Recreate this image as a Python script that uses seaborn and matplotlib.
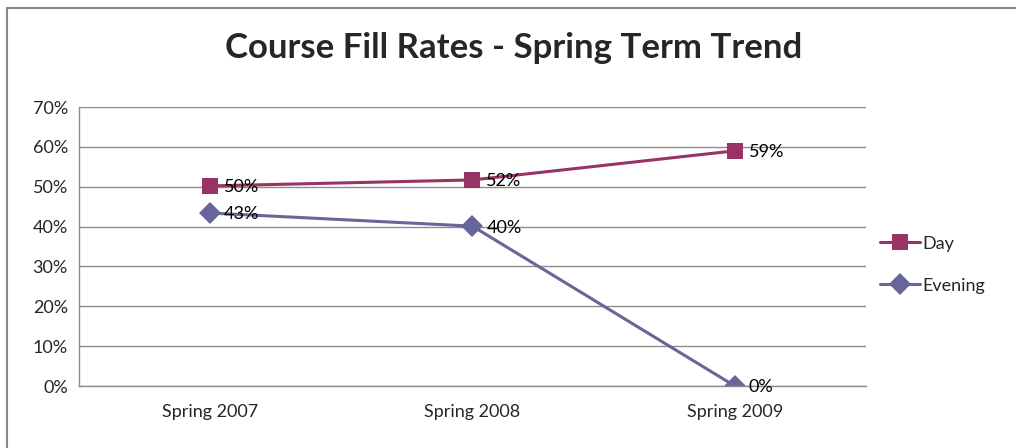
import matplotlib
matplotlib.use("Agg")
import matplotlib.pyplot as plt
import seaborn as sns
import pandas as pd

terms = ["Spring 2007", "Spring 2008", "Spring 2009"]
day = [50.2, 51.7, 59.0]
evening = [43.4, 40.1, 0.0]
day_labels = ["50%", "52%", "59%"]
evening_labels = ["43%", "40%", "0%"]

df = pd.DataFrame({"term": terms * 2,
                   "rate": day + evening,
                   "series": ["Day"] * 3 + ["Evening"] * 3})

sns.set_theme(style="white")
plt.rcParams["font.family"] = ["Lato", "DejaVu Sans"]

fig = plt.figure(figsize=(10.16, 4.48), dpi=100)
ax = fig.add_axes([79/1016, 1-386/448, (866-79)/1016, (386-107)/448])

palette = {"Day": "#993366", "Evening": "#666699"}
sns.lineplot(data=df, x="term", y="rate", hue="series", style="series",
             markers={"Day": "s", "Evening": "D"}, dashes=False,
             palette=palette, linewidth=2.2, markersize=11,
             markeredgewidth=0, sort=False, ax=ax)

for i, (v, lab) in enumerate(zip(day, day_labels)):
    ax.annotate(lab, (i, v), xytext=(10, -1), textcoords="offset points",
                va="center", ha="left", fontsize=13, color="black")
for i, (v, lab) in enumerate(zip(evening, evening_labels)):
    ax.annotate(lab, (i, v), xytext=(10, -1), textcoords="offset points",
                va="center", ha="left", fontsize=13, color="black")

ax.set_xlim(-0.5, 2.5)
ax.set_ylim(0, 70)
ax.set_yticks(range(0, 71, 10))
ax.set_yticklabels([f"{t}%" for t in range(0, 71, 10)], fontsize=13)
ax.tick_params(axis="x", labelsize=13, pad=13, length=0)
ax.tick_params(axis="y", pad=8, length=0)
ax.yaxis.grid(True, color="#8c8c8c", linewidth=1)
ax.set_axisbelow(True)
ax.set_xlabel("")
ax.set_ylabel("")
for s in ["top", "right"]:
    ax.spines[s].set_visible(False)
for s in ["left", "bottom"]:
    ax.spines[s].set_color("#8c8c8c")
    ax.spines[s].set_linewidth(1)

handles, labels = ax.get_legend_handles_labels()
leg = ax.legend(handles, labels, loc="center left", bbox_to_anchor=(1.0, 0.435),
                frameon=False, fontsize=13, handlelength=2.2, labelspacing=1.45,
                handletextpad=0.15, borderaxespad=0.4)

fig.text(0.506, 0.893, "Course Fill Rates - Spring Term Trend", ha="center",
         va="center", fontsize=25, fontweight="bold")

# outer chart border
border = plt.Rectangle((7/1016, -0.1), 1.2, 1 - 8/448 + 0.1, transform=fig.transFigure,
                       fill=False, edgecolor="#868686", linewidth=1.5)
fig.add_artist(border)

fig.savefig("out.png", dpi=100)
